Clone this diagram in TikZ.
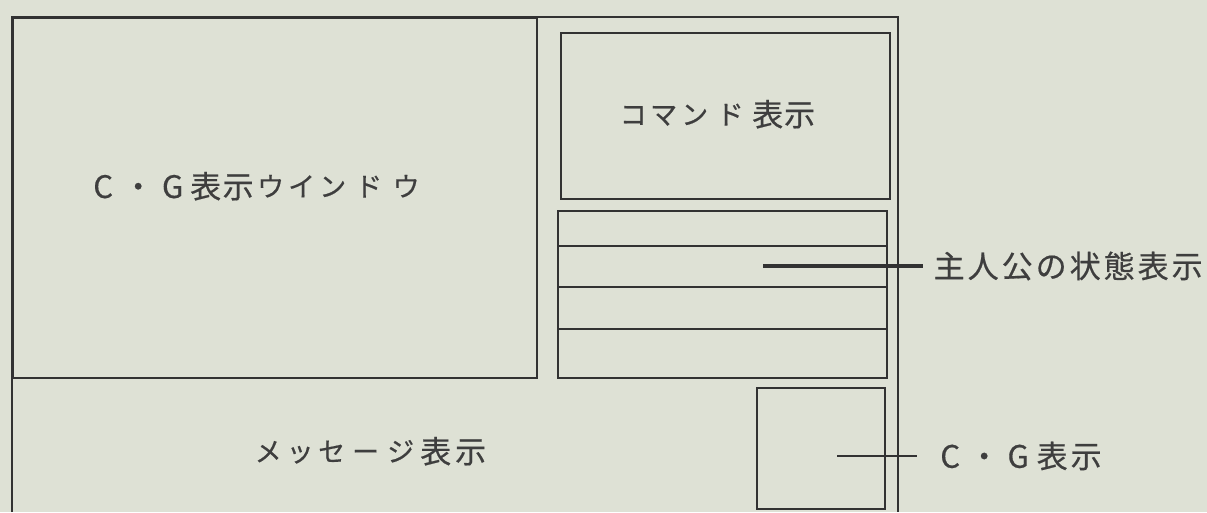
\documentclass[tikz,border=0pt]{standalone}
\usepackage{fontspec}
\setmainfont{Noto Sans CJK JP}[FakeBold=0.5]
\definecolor{bg}{RGB}{222,225,213}
\definecolor{ink}{RGB}{50,50,50}
\definecolor{txt}{RGB}{62,62,62}
\newcommand\kj[2]{\makebox[#1pt]{\fontsize{31}{31}\selectfont #2}}
\newcommand\ka[2]{\makebox[#1pt]{\raisebox{1.5pt}{\fontsize{27}{27}\selectfont #2}}}
\tikzset{
  box/.style={draw=ink, line width=1.5pt, inner sep=0pt, anchor=north west},
  frame/.style={draw=ink, line width=1.6pt},
  rule/.style={draw=ink, line width=1.4pt},
  leader/.style={draw=ink, line width=3.4pt},
  lbl/.style={text=txt, inner sep=0pt, anchor=base west},
  side/.style={text=txt, inner ysep=0pt, anchor=west}
}
\begin{document}
\begin{tikzpicture}[x=1pt,y=-1pt]
\fill[bg] (0,0) rectangle (1207,512);
\useasboundingbox (0,0) rectangle (1207,512);
% outer frame (open at bottom)
\draw[frame] (12,512) -- (12,17) -- (898,17) -- (898,512);
% C.G window
\node[box, minimum width=524pt, minimum height=360pt] (cgwin) at (12,17) {};
% command box
\node[box, minimum width=329pt, minimum height=166pt] (cmd) at (560,32) {};
% status box
\node[box, minimum width=329pt, minimum height=167pt] (status) at (557,210) {};
\draw[rule] (557,246) -- (886,246);
\draw[rule] (557,287) -- (886,287);
\draw[rule] (557,329) -- (886,329);
% small C.G box
\node[box, minimum width=128pt, minimum height=121pt] (cgbox) at (756,387) {};
% texts
\node[lbl] (cgwintext) at (85.5,198) {\kj{35}{C}\kj{35}{・}\kj{34}{G}\kj{32}{表}\kj{33}{示}\ka{32}{ウ}\ka{30}{イ}\ka{32}{ン}\ka{40}{ド}\ka{35}{ウ}};
\node[lbl] (cmdtext) at (617.5,126) {\ka{31}{コ}\ka{30}{マ}\ka{32}{ン}\ka{39}{ド}\kj{36}{表}\kj{28}{示}};
\node[lbl] (msgtext) at (251,463) {\ka{34}{メ}\ka{30}{ッ}\ka{33}{セ}\ka{35}{ー}\ka{35}{ジ}\kj{35}{表}\kj{35}{示}};
% side labels and leaders
\node[side, inner xsep=9pt] (statuslbl) at (923,266) {\kj{34}{主}\kj{34}{人}\kj{34}{公}\kj{34}{の}\kj{34}{状}\kj{34}{態}\kj{34}{表}\kj{34}{示}};
\node[side, inner xsep=16pt] (cglbl) at (917,456) {\kj{34}{C}\kj{34}{・}\kj{34}{G}\kj{34}{表}\kj{34}{示}};
\coordinate (sl) at (763,266);
\coordinate (cl) at (837,456);
\draw[leader] (sl) -- (statuslbl.west);
\draw[leader, line width=2.6pt] (cl) -- (cglbl.west);
\end{tikzpicture}
\end{document}
